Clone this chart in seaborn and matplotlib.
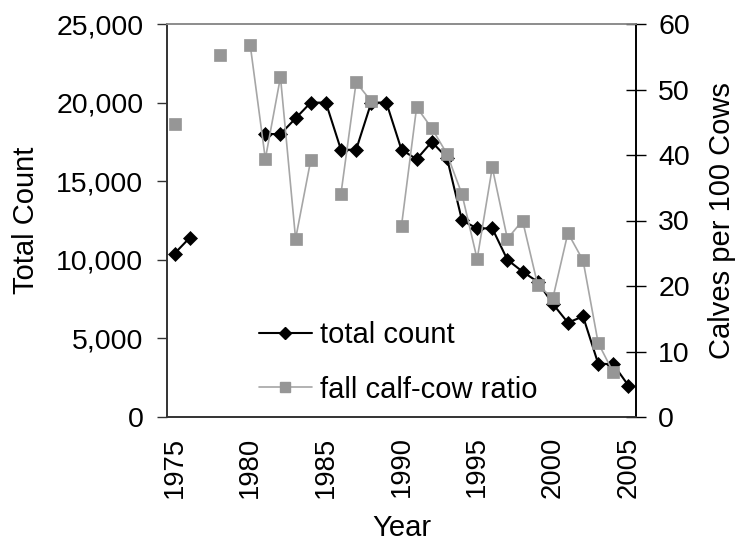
import numpy as np
import pandas as pd
import matplotlib
matplotlib.use("Agg")
import matplotlib.pyplot as plt
from matplotlib.lines import Line2D
from matplotlib.ticker import FuncFormatter
import seaborn as sns

# ---- data ----
years = list(range(1975, 2006))
total_count = [10400, 11400, np.nan, np.nan, np.nan, np.nan, 18000, 18000, 19000, 20000,
               20000, 17000, 17000, 20000, 20000, 17000, 16400, 17500, 16500, 12500,
               12000, 12000, 10000, 9250, 8600, 7200, 6000, 6400, 3400, 3350, 2000]
calf_cow_ratio = [44.8, np.nan, np.nan, 55.3, np.nan, 56.8, 39.4, 51.9, 27.2, 39.2,
                  np.nan, 34.1, 51.1, 48.2, np.nan, 29.2, 47.3, 44.1, 40.2, 34.0,
                  24.1, 38.1, 27.2, 30.0, 20.2, 18.1, 28.1, 23.9, 11.3, 6.8, np.nan]
left_ticks = [0, 5000, 10000, 15000, 20000, 25000]
right_ticks = [0, 10, 20, 30, 40, 50, 60]
year_ticks = [1975, 1980, 1985, 1990, 1995, 2000, 2005]
labels = ["total count", "fall calf-cow ratio"]


def segmented(vals):
    s = pd.Series(vals, index=years)
    seg = s.isna().cumsum()
    df = pd.DataFrame({"year": years, "value": s.values, "seg": seg.values})
    return df.dropna()


sns.set_style("white")
plt.rcParams["font.family"] = ["Liberation Sans", "DejaVu Sans"]
for k in ("text.color", "axes.labelcolor", "xtick.color", "ytick.color"):
    plt.rcParams[k] = "black"
FS_LAB = 21
FS_Y = 20.5
FS_X = 19.8

fig = plt.figure(figsize=(7.35, 5.45), dpi=100)
ax = fig.add_axes([167 / 735, 1 - 417 / 545, (636 - 167) / 735, (417 - 24) / 545])
ax2 = ax.twinx()

black = "#000000"
gray_fill = "#969696"
gray_line = "#a6a6a6"

sns.lineplot(data=segmented(total_count), x="year", y="value", units="seg",
             estimator=None, ax=ax, color=black, lw=1.5, marker="D",
             markersize=7.6, markeredgecolor=black, markeredgewidth=0.5, legend=False)
sns.lineplot(data=segmented(calf_cow_ratio), x="year", y="value", units="seg",
             estimator=None, ax=ax2, color=gray_line, lw=1.2, marker="s",
             markersize=9.0, markerfacecolor=gray_fill, markeredgecolor=gray_fill,
             markeredgewidth=0.5, legend=False)

ax.set_xlim(1974.5, 2005.5)
ax.set_ylim(0, 25000)
ax2.set_ylim(0, 60)
ax.set_yticks(left_ticks)
ax.yaxis.set_major_formatter(FuncFormatter(lambda v, p: f"{int(v):,}"))
ax2.set_yticks(right_ticks)
ax.set_xticks(year_ticks)
ax.set_xticklabels([str(y) for y in year_ticks], rotation=90)
ax.set_xticks(np.arange(1974.5, 2006.0, 1.0), minor=True)

ax.tick_params(axis="x", which="major", length=0, pad=14, labelsize=FS_X, labelcolor=black)
ax.tick_params(axis="x", which="minor", length=7, width=1, direction="out", color="#333333")
ax.tick_params(axis="y", length=7, width=1, direction="out", pad=10, labelsize=FS_Y,
               color="#333333", labelcolor=black)
ax2.tick_params(axis="y", length=14, width=1, direction="inout", pad=9, labelsize=FS_Y,
                color=black, labelcolor=black)

ax.set_xlabel("Year", fontsize=FS_LAB, labelpad=12)
ax.set_ylabel("Total Count", fontsize=FS_LAB, labelpad=12)
ax2.set_ylabel("Calves per 100 Cows", fontsize=FS_LAB, labelpad=13)

for a in (ax, ax2):
    for s in a.spines.values():
        s.set_visible(True)
    a.spines["top"].set_color("#8c8c8c")
    a.spines["top"].set_linewidth(1.2)
    a.spines["left"].set_color("#333333")
    a.spines["left"].set_linewidth(1.2)
    a.spines["bottom"].set_color("#333333")
    a.spines["bottom"].set_linewidth(1.2)
    a.spines["right"].set_color(black)
    a.spines["right"].set_linewidth(1.2)
    a.grid(False)

handles = [
    Line2D([], [], color=black, lw=1.5, marker="D", markersize=6, markerfacecolor=black,
           markeredgecolor=black),
    Line2D([], [], color=gray_line, lw=1.2, marker="s", markersize=7, markerfacecolor=gray_fill,
           markeredgecolor=gray_fill),
]
ax2.legend(handles, labels, loc="center left", bbox_to_anchor=((259 - 167) / 469, (417 - 362.5) / 393),
           frameon=False, fontsize=FS_LAB, handlelength=1.8, handletextpad=0.3,
           labelspacing=0.9, borderpad=0, borderaxespad=0)

fig.savefig("out.png", dpi=100)
